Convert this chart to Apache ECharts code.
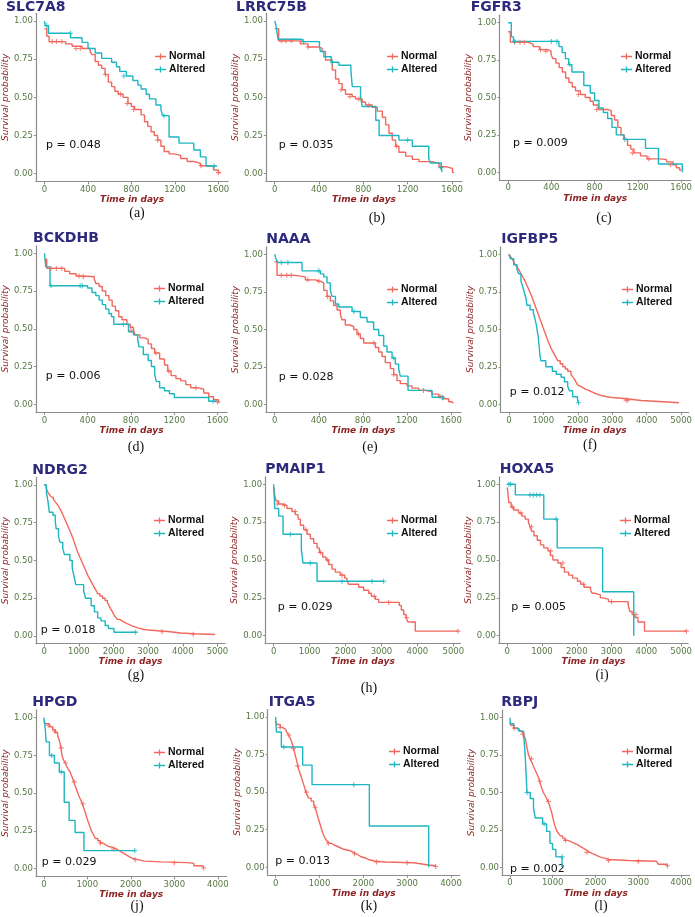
<!DOCTYPE html>
<html><head><meta charset="utf-8">
<script src="https://cdn.jsdelivr.net/npm/echarts@6.0.0/dist/echarts.min.js"></script>
<style>html,body{margin:0;padding:0;background:#fff}#chart{width:695px;height:917px}</style>
</head><body><div id="chart"></div>
<script>
// ---------------- DATA ----------------
const genes = ['SLC7A8','LRRC75B','FGFR3','BCKDHB','NAAA','IGFBP5','NDRG2','PMAIP1','HOXA5','HPGD','ITGA5','RBPJ'];
const pValues = ['0.048','0.035','0.009','0.006','0.028','0.012','0.018','0.029','0.005','0.029','0.013','0.002'];
const panelLetters = ['(a)','(b)','(c)','(d)','(e)','(f)','(g)','(h)','(i)','(j)','(k)','(l)'];
const groupNames = ['Normal','Altered'];
const ticks1600 = [0,400,800,1200,1600];
const ticks5000 = [0,1000,2000,3000,4000,5000];
const ticks4000 = [0,1000,2000,3000,4000];
const yTicks = [0,0.25,0.5,0.75,1];

const slc7a8Normal = [[0,0.95],[21,0.90],[42,0.865],[194,0.85],[254,0.835],[345,0.82],[420,0.80],[436,0.78],[466,0.735],[496,0.71],[526,0.69],[557,0.65],[587,0.60],[617,0.57],[647,0.54],[678,0.52],[723,0.50],[768,0.46],[799,0.44],[829,0.42],[889,0.385],[920,0.34],[950,0.31],[980,0.275],[1010,0.25],[1041,0.22],[1071,0.18],[1101,0.145],[1146,0.13],[1192,0.12],[1252,0.10],[1313,0.08],[1373,0.068],[1434,0.052],[1509,0.046],[1555,0.024],[1600,0.007],[1620,0.007]];
const slc7a8Altered = [[0,1],[6,0.97],[36,0.92],[239,0.89],[345,0.86],[400,0.82],[466,0.79],[526,0.755],[617,0.73],[662,0.70],[692,0.67],[753,0.64],[813,0.61],[859,0.58],[889,0.555],[935,0.52],[965,0.49],[1025,0.45],[1071,0.42],[1086,0.38],[1146,0.24],[1237,0.20],[1373,0.155],[1434,0.11],[1486,0.05],[1586,0.05]];
const slc7a8NormalCens = [[70,0.865],[110,0.865],[160,0.865],[290,0.82],[330,0.82],[560,0.65],[700,0.52],[760,0.46],[820,0.42],[1040,0.22],[1440,0.052],[1600,0.007]];
const slc7a8AlteredCens = [[20,0.97],[240,0.92],[730,0.64],[1100,0.38],[1560,0.05]];

const lrrc75bNormal = [[0,0.95],[36,0.87],[232,0.85],[300,0.83],[398,0.82],[428,0.80],[458,0.745],[519,0.68],[549,0.62],[579,0.59],[609,0.55],[639,0.52],[699,0.505],[730,0.49],[790,0.47],[820,0.45],[880,0.435],[926,0.41],[971,0.37],[1001,0.32],[1031,0.265],[1061,0.22],[1091,0.18],[1121,0.14],[1182,0.115],[1242,0.094],[1302,0.079],[1423,0.068],[1483,0.046],[1544,0.035],[1604,0.009],[1620,0.009]];
const lrrc75bAltered = [[0,1],[12,0.97],[30,0.88],[247,0.865],[404,0.83],[413,0.80],[443,0.766],[510,0.73],[579,0.71],[687,0.68],[700,0.57],[775,0.50],[790,0.44],[912,0.35],[942,0.25],[1121,0.22],[1242,0.18],[1390,0.10],[1405,0.07],[1504,0.04],[1510,0.01]];
const lrrc75bNormalCens = [[60,0.87],[100,0.87],[150,0.87],[300,0.83],[600,0.55],[680,0.505],[760,0.49],[850,0.45],[1100,0.18],[1500,0.046]];
const lrrc75bAlteredCens = [[260,0.865],[520,0.73],[1200,0.22],[1500,0.04]];

const fgfr3Normal = [[0,0.94],[21,0.87],[171,0.865],[202,0.855],[232,0.84],[292,0.82],[367,0.81],[397,0.79],[412,0.76],[442,0.73],[472,0.70],[502,0.67],[532,0.63],[562,0.60],[593,0.57],[623,0.545],[668,0.52],[713,0.50],[758,0.475],[788,0.45],[833,0.42],[923,0.41],[954,0.38],[984,0.35],[1014,0.30],[1044,0.25],[1074,0.22],[1104,0.18],[1134,0.155],[1164,0.13],[1224,0.11],[1284,0.09],[1405,0.085],[1465,0.07],[1525,0.05],[1555,0.03],[1585,0.015],[1600,0.015]];
const fgfr3Altered = [[0,1],[30,0.905],[50,0.875],[470,0.84],[500,0.80],[530,0.76],[560,0.72],[590,0.67],[700,0.58],[760,0.53],[800,0.48],[840,0.43],[880,0.40],[920,0.36],[960,0.30],[1000,0.25],[1070,0.22],[1270,0.16],[1390,0.055],[1610,0.0]];
const fgfr3NormalCens = [[60,0.87],[110,0.87],[150,0.87],[300,0.82],[350,0.81],[650,0.52],[820,0.42],[1150,0.13],[1300,0.09],[1500,0.05]];
const fgfr3AlteredCens = [[60,0.875],[400,0.875],[450,0.875],[570,0.72],[1080,0.22]];

const bckdhbNormal = [[0,0.96],[21,0.90],[188,0.88],[233,0.865],[293,0.85],[354,0.845],[460,0.83],[475,0.80],[505,0.78],[535,0.75],[566,0.72],[596,0.69],[626,0.65],[656,0.62],[687,0.58],[717,0.56],[762,0.53],[793,0.51],[823,0.49],[838,0.46],[883,0.44],[929,0.43],[959,0.40],[989,0.37],[1019,0.34],[1065,0.30],[1110,0.26],[1140,0.22],[1171,0.19],[1216,0.17],[1261,0.155],[1307,0.13],[1352,0.11],[1413,0.10],[1473,0.075],[1519,0.05],[1564,0.03],[1609,0.015],[1620,0.015]];
const bckdhbAltered = [[0,1],[12,0.91],[51,0.785],[399,0.77],[439,0.74],[475,0.72],[505,0.69],[535,0.66],[566,0.63],[596,0.60],[620,0.58],[641,0.53],[777,0.48],[823,0.46],[862,0.43],[874,0.38],[914,0.33],[959,0.29],[989,0.25],[1019,0.20],[1035,0.15],[1065,0.11],[1110,0.09],[1156,0.07],[1201,0.045],[1519,0.02],[1594,0.02]];
const bckdhbNormalCens = [[60,0.9],[110,0.9],[160,0.9],[320,0.85],[360,0.845],[800,0.49],[1030,0.34],[1150,0.22],[1400,0.11],[1600,0.015]];
const bckdhbAlteredCens = [[60,0.785],[330,0.785],[350,0.785],[730,0.53],[1560,0.02]];

const naaaNormal = [[0,0.95],[21,0.86],[188,0.85],[278,0.83],[369,0.82],[414,0.81],[445,0.76],[475,0.72],[505,0.69],[535,0.66],[566,0.63],[596,0.60],[611,0.565],[641,0.53],[680,0.52],[717,0.50],[747,0.47],[777,0.44],[808,0.41],[914,0.38],[944,0.35],[974,0.32],[1004,0.28],[1050,0.24],[1080,0.20],[1110,0.16],[1140,0.14],[1201,0.125],[1246,0.11],[1307,0.095],[1367,0.085],[1428,0.07],[1488,0.055],[1534,0.04],[1579,0.02],[1609,0.01],[1620,0.01]];
const naaaAltered = [[0,1],[12,0.97],[30,0.945],[248,0.89],[414,0.87],[445,0.85],[475,0.81],[505,0.76],[520,0.72],[551,0.67],[581,0.65],[702,0.62],[777,0.58],[838,0.55],[898,0.50],[944,0.46],[989,0.39],[1019,0.35],[1065,0.31],[1095,0.27],[1125,0.24],[1140,0.19],[1210,0.095],[1428,0.05],[1525,0.03]];
const naaaNormalCens = [[60,0.86],[110,0.86],[150,0.86],[300,0.83],[400,0.82],[480,0.72],[760,0.47],[900,0.41],[1080,0.20],[1350,0.095],[1500,0.055]];
const naaaAlteredCens = [[60,0.945],[120,0.945],[400,0.89],[720,0.62],[1080,0.31],[1520,0.05]];

const igfbp5Normal = [[0,1],[50,0.985],[95,0.97],[140,0.95],[190,0.93],[240,0.915],[285,0.90],[330,0.88],[380,0.86],[425,0.84],[474,0.82],[520,0.795],[569,0.77],[615,0.745],[664,0.72],[710,0.69],[759,0.66],[805,0.63],[854,0.60],[900,0.57],[949,0.54],[995,0.51],[1044,0.48],[1090,0.45],[1139,0.42],[1185,0.395],[1233,0.37],[1280,0.35],[1328,0.33],[1375,0.31],[1423,0.29],[1490,0.27],[1566,0.25],[1640,0.235],[1708,0.22],[1803,0.20],[1850,0.185],[1898,0.17],[1945,0.15],[1992,0.13],[2040,0.12],[2087,0.11],[2160,0.10],[2230,0.095],[2300,0.087],[2372,0.08],[2440,0.072],[2514,0.065],[2600,0.057],[2704,0.05],[2850,0.045],[2989,0.04],[3273,0.035],[3463,0.025],[3843,0.02],[4222,0.015],[4602,0.01],[4934,0.008]];
const igfbp5Altered = [[0,1],[47,0.97],[142,0.93],[237,0.90],[284,0.87],[351,0.82],[408,0.78],[455,0.74],[503,0.70],[522,0.66],[617,0.63],[712,0.61],[759,0.57],[806,0.52],[830,0.48],[854,0.45],[868,0.41],[882,0.38],[901,0.33],[930,0.29],[1072,0.25],[1262,0.22],[1376,0.20],[1518,0.18],[1613,0.15],[1708,0.12],[1755,0.09],[1850,0.05],[1992,0.03],[2021,0.01]];
const igfbp5NormalCens = [[3400,0.028],[3450,0.027]];
const igfbp5AlteredCens = [[2021,0.01]];

const ndrg2Normal = [[0,1],[60,0.975],[113,0.95],[160,0.935],[207,0.92],[265,0.905],[320,0.89],[365,0.875],[414,0.86],[460,0.84],[508,0.82],[555,0.795],[603,0.77],[650,0.745],[697,0.72],[745,0.695],[791,0.67],[840,0.64],[885,0.61],[930,0.58],[979,0.55],[1025,0.525],[1073,0.50],[1120,0.475],[1168,0.45],[1215,0.425],[1262,0.40],[1310,0.38],[1356,0.36],[1400,0.34],[1450,0.32],[1500,0.30],[1544,0.28],[1610,0.265],[1685,0.25],[1760,0.235],[1827,0.22],[1875,0.20],[1921,0.18],[1970,0.16],[2015,0.14],[2060,0.125],[2109,0.11],[2180,0.10],[2250,0.09],[2320,0.082],[2392,0.075],[2460,0.067],[2533,0.06],[2620,0.052],[2721,0.045],[2860,0.04],[3004,0.035],[3286,0.03],[3569,0.02],[3945,0.015],[4322,0.01],[4934,0.008]];
const ndrg2Altered = [[0,1],[66,0.95],[104,0.90],[151,0.82],[254,0.80],[320,0.76],[348,0.71],[414,0.66],[461,0.62],[537,0.58],[584,0.54],[744,0.50],[810,0.45],[857,0.40],[913,0.34],[1139,0.30],[1196,0.25],[1356,0.20],[1450,0.16],[1544,0.12],[1638,0.10],[1761,0.07],[1855,0.05],[2015,0.025],[2674,0.025]];
const ndrg2NormalCens = [[3400,0.028],[4300,0.012]];
const ndrg2AlteredCens = [[2640,0.025]];

const pmaip1Normal = [[0,0.98],[28,0.93],[65,0.89],[139,0.87],[232,0.86],[371,0.84],[510,0.82],[603,0.80],[677,0.77],[742,0.73],[835,0.70],[928,0.67],[1020,0.64],[1113,0.61],[1206,0.58],[1271,0.55],[1364,0.52],[1456,0.50],[1531,0.47],[1623,0.44],[1716,0.42],[1855,0.40],[1976,0.38],[2041,0.36],[2087,0.34],[2365,0.32],[2505,0.30],[2644,0.28],[2718,0.26],[2829,0.24],[2922,0.22],[3497,0.20],[3553,0.17],[3618,0.14],[3683,0.12],[3738,0.09],[3942,0.03],[5130,0.03]];
const pmaip1Altered = [[0,1],[28,0.84],[139,0.79],[260,0.67],[770,0.57],[816,0.48],[1206,0.36],[3061,0.36]];
const pmaip1NormalCens = [[100,0.87],[300,0.86],[600,0.82],[900,0.70],[1300,0.55],[1500,0.50],[1900,0.40],[2800,0.26],[3200,0.22],[3700,0.12],[5130,0.03]];
const pmaip1AlteredCens = [[464,0.67],[1020,0.48],[1902,0.36],[2736,0.36],[3061,0.36]];

const hoxa5Normal = [[0,0.98],[20,0.95],[47,0.88],[113,0.85],[188,0.83],[329,0.81],[423,0.79],[517,0.77],[611,0.75],[658,0.72],[705,0.69],[771,0.66],[865,0.63],[959,0.60],[1053,0.58],[1175,0.56],[1241,0.53],[1316,0.50],[1457,0.48],[1551,0.45],[1645,0.42],[1767,0.40],[1880,0.38],[2021,0.36],[2115,0.34],[2209,0.32],[2396,0.30],[2443,0.28],[2537,0.27],[2678,0.25],[2772,0.24],[2913,0.225],[3477,0.20],[3524,0.16],[3590,0.14],[3665,0.12],[3759,0.09],[3947,0.03],[5150,0.03]];
const hoxa5Altered = [[0,1],[235,0.93],[1053,0.77],[1438,0.58],[2744,0.29],[3637,0.0]];
const hoxa5NormalCens = [[150,0.85],[400,0.81],[700,0.72],[1250,0.56],[1600,0.48],[2200,0.34],[3000,0.225],[3700,0.14],[5150,0.03]];
const hoxa5AlteredCens = [[47,1],[100,1],[658,0.93],[752,0.93],[846,0.93],[940,0.93],[1410,0.77]];

const hpgdNormal = [[0,0.98],[38,0.96],[128,0.94],[204,0.92],[264,0.90],[317,0.88],[355,0.85],[375,0.825],[392,0.80],[405,0.775],[415,0.75],[435,0.735],[453,0.72],[490,0.70],[521,0.68],[560,0.66],[604,0.64],[630,0.62],[657,0.60],[690,0.575],[717,0.55],[745,0.53],[770,0.51],[795,0.49],[823,0.47],[855,0.45],[883,0.43],[913,0.405],[943,0.38],[970,0.355],[996,0.33],[1027,0.305],[1057,0.28],[1083,0.26],[1109,0.24],[1150,0.22],[1185,0.20],[1240,0.185],[1298,0.17],[1355,0.16],[1411,0.15],[1470,0.145],[1525,0.14],[1600,0.13],[1675,0.12],[1730,0.11],[1789,0.10],[1850,0.09],[1902,0.08],[1960,0.072],[2015,0.065],[2090,0.06],[2166,0.055],[2240,0.05],[2317,0.045],[2694,0.04],[3298,0.035],[3449,0.02],[3638,0.01],[3675,0.005]];
const hpgdAltered = [[0,1],[30,0.93],[53,0.84],[128,0.75],[242,0.70],[355,0.64],[468,0.44],[581,0.32],[717,0.24],[921,0.12],[2090,0.12]];
const hpgdNormalCens = [[100,0.95],[250,0.91],[400,0.80],[500,0.70],[700,0.575],[900,0.43],[1300,0.17],[1600,0.13],[2100,0.06],[3000,0.04],[3675,0.005]];
const hpgdAlteredCens = [[180,0.75],[400,0.64],[2090,0.12]];

const itga5Normal = [[0,0.97],[30,0.95],[106,0.93],[160,0.92],[221,0.91],[260,0.895],[297,0.88],[330,0.86],[357,0.84],[385,0.815],[411,0.79],[430,0.765],[449,0.74],[470,0.72],[487,0.70],[505,0.675],[525,0.65],[555,0.625],[586,0.60],[612,0.575],[639,0.55],[665,0.525],[692,0.50],[720,0.48],[753,0.46],[810,0.44],[867,0.42],[895,0.40],[920,0.38],[943,0.355],[966,0.33],[993,0.305],[1019,0.28],[1045,0.255],[1072,0.23],[1100,0.21],[1133,0.19],[1170,0.175],[1209,0.16],[1265,0.15],[1323,0.14],[1400,0.13],[1475,0.12],[1550,0.115],[1627,0.11],[1700,0.10],[1780,0.09],[1840,0.08],[1894,0.07],[1950,0.065],[2008,0.06],[2065,0.052],[2122,0.045],[2200,0.04],[2274,0.035],[2502,0.03],[3149,0.025],[3262,0.015],[3491,0.01],[3643,0.005]];
const itga5Altered = [[0,1],[15,0.90],[129,0.80],[616,0.68],[829,0.55],[2137,0.275],[3491,0.0]];
const itga5NormalCens = [[100,0.93],[300,0.88],[400,0.79],[500,0.675],[700,0.50],[900,0.40],[1200,0.16],[1800,0.09],[2300,0.035],[3000,0.03],[3650,0.005]];
const itga5AlteredCens = [[183,0.80],[1780,0.55]];

const rbpjNormal = [[0,0.97],[15,0.95],[92,0.93],[150,0.92],[207,0.91],[260,0.90],[307,0.89],[335,0.875],[360,0.86],[380,0.83],[398,0.80],[418,0.775],[437,0.75],[475,0.725],[513,0.70],[550,0.675],[590,0.65],[630,0.625],[667,0.60],[695,0.575],[720,0.55],[750,0.525],[782,0.50],[820,0.48],[858,0.46],[890,0.44],[920,0.42],[945,0.395],[973,0.37],[993,0.345],[1012,0.32],[1030,0.30],[1050,0.28],[1075,0.26],[1103,0.24],[1140,0.225],[1180,0.21],[1230,0.195],[1280,0.18],[1360,0.17],[1433,0.16],[1510,0.15],[1586,0.14],[1640,0.13],[1701,0.12],[1760,0.11],[1816,0.10],[1870,0.092],[1931,0.085],[1990,0.077],[2046,0.07],[2100,0.065],[2161,0.06],[2240,0.052],[2314,0.045],[2774,0.04],[3425,0.035],[3464,0.02],[3655,0.01],[3680,0.01]];
const rbpjAltered = [[0,1],[15,0.96],[92,0.93],[207,0.91],[322,0.88],[345,0.80],[360,0.73],[383,0.60],[398,0.50],[475,0.46],[552,0.40],[590,0.33],[766,0.29],[858,0.24],[935,0.16],[996,0.12],[1073,0.07],[1218,0.0]];
const rbpjNormalCens = [[100,0.93],[300,0.89],[500,0.725],[700,0.575],[900,0.44],[1300,0.18],[1800,0.10],[2300,0.045],[3000,0.04],[3680,0.01]];
const rbpjAlteredCens = [[400,0.50],[800,0.29],[1218,0.07]];

// ---------------- LAYOUT (positions / styles) ----------------
const layout = [
 {x0:42,    xT:218.3, y1:21,    y0:173.7, xr:[-80,1690],  title:[6,7.5],       pv:[46,145],     cap:[137,213], leg:[155,55]},
 {x0:274.7, xT:452,   y1:21,    y0:173.7, xr:[-80,1690],  title:[236,7.5],     pv:[278.7,145],  cap:[377,218], leg:[387,55]},
 {x0:508.3, xT:685.7, y1:22.7,  y0:172.3, xr:[-80,1690],  title:[470.7,7.5],   pv:[513,143.3],  cap:[604,218], leg:[621,55]},
 {x0:41,    xT:217.3, y1:253.3, y0:404.3, xr:[-80,1690],  title:[33,238.5],    pv:[45.7,376],   cap:[136,447], leg:[154,287]},
 {x0:274.7, xT:451,   y1:254.3, y0:404.7, xr:[-80,1690],  title:[266.3,239.3], pv:[278.7,376.7],cap:[370,447], leg:[387,288]},
 {x0:509,   xT:684.7, y1:254.3, y0:404.3, xr:[-240,5220], title:[501.3,239.3], pv:[509.7,391.7],cap:[590,445], leg:[622,288]},
 {x0:40.3,  xT:217.3, y1:485,   y0:636,   xr:[-240,5220], title:[32.3,470],    pv:[40.7,630],   cap:[136,675], leg:[154,519]},
 {x0:273.7, xT:453.3, y1:484.3, y0:635.7, xr:[-240,5200], title:[265.3,469.3], pv:[277.7,606.7],cap:[369,688], leg:[387,519]},
 {x0:507.3, xT:684.7, y1:484.3, y0:635.7, xr:[-240,5200], title:[499.7,469.3], pv:[511.3,606.7],cap:[602,675], leg:[620,519]},
 {x0:41,    xT:217.7, y1:717.7, y0:868.7, xr:[-185,4200], title:[32.3,702],    pv:[41.7,862],   cap:[137,906], leg:[154,751]},
 {x0:275.7, xT:451,   y1:717,   y0:867.3, xr:[-185,4200], title:[268.7,702],   pv:[275.3,861],  cap:[369,906], leg:[389,750]},
 {x0:510,   xT:684,   y1:717.7, y0:867.3, xr:[-185,4200], title:[501.3,702],   pv:[510,868.7],  cap:[601,906], leg:[622,750]}
];

const panels = [
 {ticks:ticks1600, normal:slc7a8Normal,  altered:slc7a8Altered,  cN:slc7a8NormalCens,  cA:slc7a8AlteredCens},
 {ticks:ticks1600, normal:lrrc75bNormal, altered:lrrc75bAltered, cN:lrrc75bNormalCens, cA:lrrc75bAlteredCens},
 {ticks:ticks1600, normal:fgfr3Normal,   altered:fgfr3Altered,   cN:fgfr3NormalCens,   cA:fgfr3AlteredCens},
 {ticks:ticks1600, normal:bckdhbNormal,  altered:bckdhbAltered,  cN:bckdhbNormalCens,  cA:bckdhbAlteredCens},
 {ticks:ticks1600, normal:naaaNormal,    altered:naaaAltered,    cN:naaaNormalCens,    cA:naaaAlteredCens},
 {ticks:ticks5000, normal:igfbp5Normal,  altered:igfbp5Altered,  cN:igfbp5NormalCens,  cA:igfbp5AlteredCens},
 {ticks:ticks5000, normal:ndrg2Normal,   altered:ndrg2Altered,   cN:ndrg2NormalCens,   cA:ndrg2AlteredCens},
 {ticks:ticks5000, normal:pmaip1Normal,  altered:pmaip1Altered,  cN:pmaip1NormalCens,  cA:pmaip1AlteredCens},
 {ticks:ticks5000, normal:hoxa5Normal,   altered:hoxa5Altered,   cN:hoxa5NormalCens,   cA:hoxa5AlteredCens},
 {ticks:ticks4000, normal:hpgdNormal,    altered:hpgdAltered,    cN:hpgdNormalCens,    cA:hpgdAlteredCens},
 {ticks:ticks4000, normal:itga5Normal,   altered:itga5Altered,   cN:itga5NormalCens,   cA:itga5AlteredCens},
 {ticks:ticks4000, normal:rbpjNormal,    altered:rbpjAltered,    cN:rbpjNormalCens,    cA:rbpjAlteredCens}
];

const RED = '#F1685E', TEAL = '#1DB6C1';
const AXIS_GREY = '#8c8c8c';
const TICK_GREEN = '#577a45';
const NAME_RED = '#8e2424';
const TITLE_BLUE = '#2d2a7c';
const plusPath = 'path://M0,3.9H10V6.1H0Z M3.9,0H6.1V10H3.9Z';
const legendIcon = 'path://M0,3.3H12V4.7H0Z M5.3,0.8H6.7V7.2H5.3Z';

const grids = [], xAxes = [], yAxes = [], series = [], legends = [], graphics = [];
panels.forEach((P, i) => {
  const L = layout[i];
  const lastTick = P.ticks[P.ticks.length - 1];
  const ppu = (L.xT - L.x0) / lastTick;
  const ppy = L.y0 - L.y1;
  grids.push({left: L.x0 + L.xr[0] * ppu, width: (L.xr[1] - L.xr[0]) * ppu,
              top: L.y1 - 0.05 * ppy, height: 1.1 * ppy, containLabel: false});
  xAxes.push({
    type: 'value', gridIndex: i, min: L.xr[0], max: L.xr[1],
    axisLine: {show: true, onZero: false, lineStyle: {color: AXIS_GREY, width: 1.2}},
    axisTick: {show: true, length: 3, customValues: P.ticks, lineStyle: {color: AXIS_GREY}},
    axisLabel: {customValues: P.ticks, color: TICK_GREEN, fontSize: 8.5, fontFamily: 'DejaVu Sans', margin: 4,
                formatter: v => String(v)},
    splitLine: {show: false},
    name: 'Time in days', nameLocation: 'middle', nameGap: 12,
    nameTextStyle: {color: NAME_RED, fontSize: 9, fontFamily: 'DejaVu Sans', fontWeight: 'bold', fontStyle: 'italic'}
  });
  yAxes.push({
    type: 'value', gridIndex: i, min: -0.05, max: 1.05,
    axisLine: {show: true, onZero: false, lineStyle: {color: AXIS_GREY, width: 1.2}},
    axisTick: {show: true, length: 2, customValues: yTicks, lineStyle: {color: AXIS_GREY}},
    axisLabel: {customValues: yTicks, color: TICK_GREEN, fontSize: 8.5, fontFamily: 'DejaVu Sans', margin: 3,
                formatter: v => v.toFixed(2)},
    splitLine: {show: false},
    name: 'Survival probability', nameLocation: 'middle', nameGap: 21,
    nameTextStyle: {color: NAME_RED, fontSize: 9, fontFamily: 'DejaVu Sans', fontStyle: 'italic'}
  });
  [[P.normal, P.cN, RED, groupNames[0]], [P.altered, P.cA, TEAL, groupNames[1]]].forEach(([curve, cens, col, nm]) => {
    series.push({type: 'line', name: nm, xAxisIndex: i, yAxisIndex: i, data: curve, step: 'end',
                 showSymbol: false, symbol: 'none', color: col, itemStyle: {color: col},
                 lineStyle: {color: col, width: 1.4}, silent: true, z: 3});
    series.push({type: 'scatter', name: nm + ' censored', xAxisIndex: i, yAxisIndex: i, data: cens,
                 symbol: plusPath, symbolSize: 5, itemStyle: {color: col}, silent: true, z: 4});
  });
  legends.push({
    left: L.leg[0], top: L.leg[1] - 4, orient: 'vertical', padding: 0, itemGap: 2,
    itemWidth: 11, itemHeight: 8, icon: legendIcon, selectedMode: false,
    data: groupNames,
    textStyle: {fontFamily: 'Liberation Sans', fontWeight: 'bold', fontSize: 10.5, color: '#111', padding: [0,0,0,-2]}
  });
  graphics.push({type: 'text', x: L.title[0], y: L.title[1],
    style: {text: genes[i], fill: TITLE_BLUE, fontSize: 14, fontWeight: 'bold', fontFamily: 'DejaVu Sans',
            align: 'left', verticalAlign: 'middle', textAlign: 'left', textVerticalAlign: 'middle'}});
  graphics.push({type: 'text', x: L.pv[0], y: L.pv[1],
    style: {text: 'p = ' + pValues[i], fill: '#111', fontSize: 11, fontFamily: 'DejaVu Sans',
            align: 'left', verticalAlign: 'middle', textAlign: 'left', textVerticalAlign: 'middle'}});
  graphics.push({type: 'text', x: L.cap[0], y: L.cap[1],
    style: {text: panelLetters[i], fill: '#111', fontSize: 14, fontFamily: 'Liberation Serif',
            align: 'center', verticalAlign: 'middle', textAlign: 'center', textVerticalAlign: 'middle'}});
});

const chart = echarts.init(document.getElementById('chart'), null, {renderer: 'canvas'});
chart.setOption({
  animation: false,
  backgroundColor: '#ffffff',
  grid: grids, xAxis: xAxes, yAxis: yAxes, series: series, legend: legends,
  graphic: {elements: graphics}
});
</script></body></html>
